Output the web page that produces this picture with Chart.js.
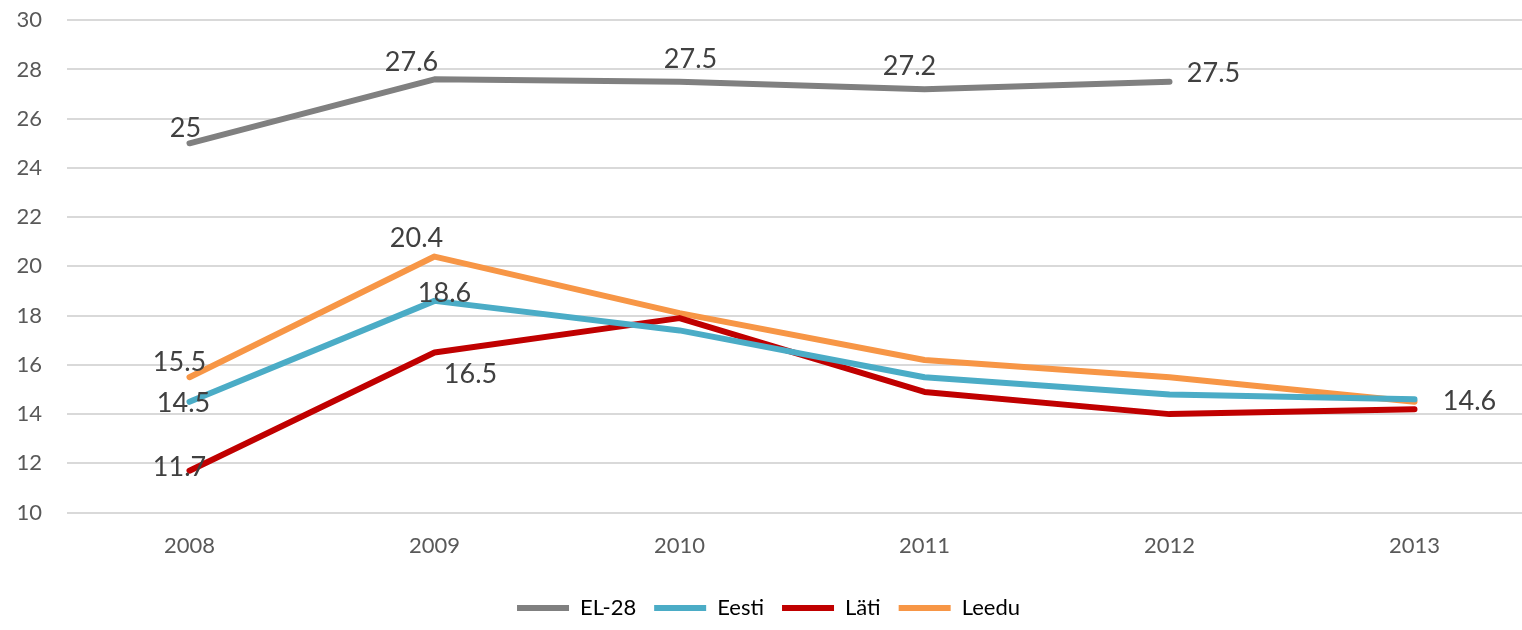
<!DOCTYPE html>
<html>
<head>
<meta charset="utf-8">
<script src="https://cdn.jsdelivr.net/npm/chart.js@4.4.0/dist/chart.umd.min.js"></script>
<style>
  html, body { margin: 0; padding: 0; background: #fff; overflow: hidden; }
  #wrap { position: absolute; left: 0; top: -18px; width: 1540px; height: 647px; }
</style>
</head>
<body>
<div id="wrap"><canvas id="c"></canvas></div>
<script>
const categories = ['2008', '2009', '2010', '2011', '2012', '2013'];
const seriesNames = ['EL-28', 'Eesti', 'Läti', 'Leedu'];
const el28 = [25, 27.6, 27.5, 27.2, 27.5, null];
const eesti = [14.5, 18.6, 17.4, 15.5, 14.8, 14.6];
const lati = [11.7, 16.5, 17.9, 14.9, 14.0, 14.2];
const leedu = [15.5, 20.4, 18.1, 16.2, 15.5, 14.5];
const yTicks = [10, 12, 14, 16, 18, 20, 22, 24, 26, 28, 30];

// which points carry a value label, and where the label sits relative to the point (px)
const labelPlacement = [
  [[0, -4, -15], [1, -23, -17], [2, 11, -22], [3, -15, -23], [4, 44, -8]],
  [[0, -6, 1], [1, 10, -8], [5, 55, 2]],
  [[0, -10, -3], [1, 36, 22]],
  [[0, -10, -15], [1, -18, -18]]
];
const colors = ['#808080', '#4BACC6', '#C00000', '#F79646'];
const FONT = 'Lato, "Open Sans", sans-serif';

const labelPlugin = {
  id: 'valueLabels',
  afterDatasetsDraw(chart) {
    const ctx = chart.ctx;
    ctx.save();
    ctx.font = '27px ' + FONT;
    ctx.fillStyle = '#404040';
    ctx.textAlign = 'center';
    ctx.textBaseline = 'middle';
    labelPlacement.forEach((list, di) => {
      const meta = chart.getDatasetMeta(di);
      const data = chart.data.datasets[di].data;
      list.forEach(([i, dx, dy]) => {
        const p = meta.data[i];
        if (!p || data[i] == null) return;
        ctx.fillText(String(data[i]), p.x + dx, p.y + dy);
      });
    });
    ctx.restore();
  }
};

const seriesData = [el28, eesti, lati, leedu];
new Chart(document.getElementById('c'), {
  type: 'line',
  data: {
    labels: categories,
    datasets: seriesData.map((d, i) => ({
      label: seriesNames[i],
      data: d,
      borderColor: colors[i],
      backgroundColor: colors[i],
      borderWidth: 6,
      pointRadius: 0,
      tension: 0,
      fill: false,
      borderCapStyle: 'round',
      borderJoinStyle: 'round',
      spanGaps: false
    }))
  },
  options: {
    responsive: true,
    maintainAspectRatio: false,
    animation: false,
    layout: { padding: { top: 0, right: 3, left: 0, bottom: 0 } },
    scales: {
      x: {
        offset: true,
        grid: { display: false, drawTicks: false },
        border: { display: false },
        ticks: { color: '#595959', font: { family: FONT, size: 22 }, padding: 20 }
      },
      y: {
        min: 10, max: 30,
        afterBuildTicks(scale) { scale.ticks = yTicks.map(v => ({ value: v })); },
        afterFit(scale) { scale.width = 67; },
        grid: { color: '#D9D9D9', lineWidth: 2, drawTicks: false },
        border: { display: false },
        ticks: { color: '#595959', font: { family: FONT, size: 22 }, padding: 25 }
      }
    },
    plugins: {
      legend: {
        position: 'bottom',
        labels: {
          color: '#595959',
          font: { family: FONT, size: 22 },
          boxWidth: 52,
          boxHeight: 6,
          padding: 18,
          generateLabels(chart) {
            return chart.data.datasets.map((ds, i) => ({
              text: ds.label,
              fillStyle: ds.borderColor,
              strokeStyle: ds.borderColor,
              lineWidth: 0,
              datasetIndex: i,
              hidden: false
            }));
          }
        }
      },
      tooltip: { enabled: false }
    }
  },
  plugins: [labelPlugin]
});
</script>
</body>
</html>
